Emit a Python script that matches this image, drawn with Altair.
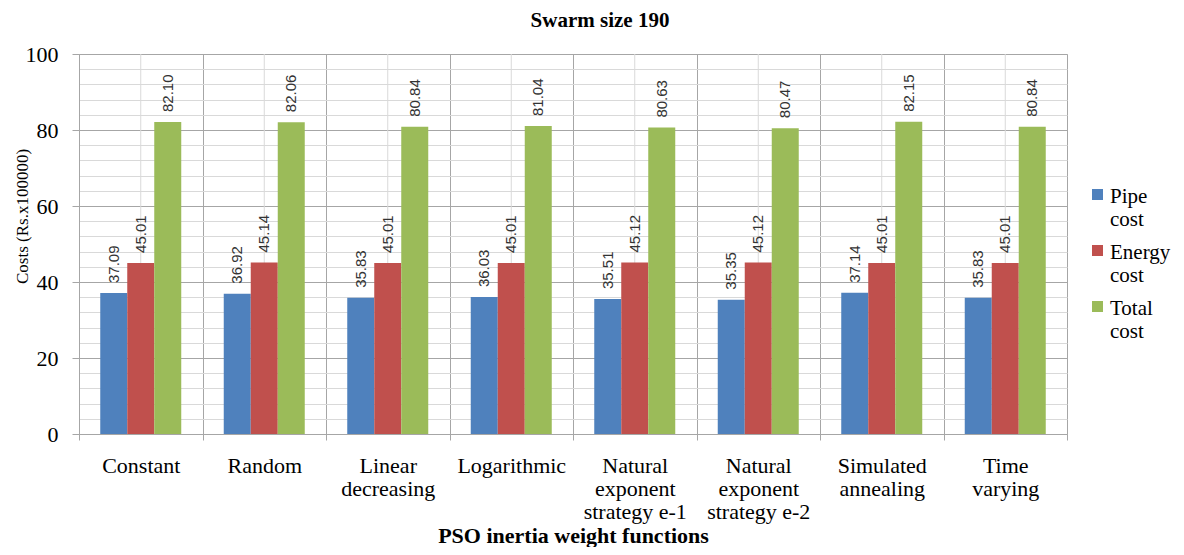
import altair as alt
import pandas as pd

category_lines = [
    ["Constant"],
    ["Random"],
    ["Linear", "decreasing"],
    ["Logarithmic"],
    ["Natural", "exponent", "strategy e-1"],
    ["Natural", "exponent", "strategy e-2"],
    ["Simulated", "annealing"],
    ["Time", "varying"],
]
categories = ["\n".join(l) for l in category_lines]

series_names = ["Pipe cost", "Energy cost", "Total cost"]
series_colors = ["#4F81BD", "#C0504D", "#9BBB59"]

pipe_cost = [37.09, 36.92, 35.83, 36.03, 35.51, 35.35, 37.14, 35.83]
energy_cost = [45.01, 45.14, 45.01, 45.01, 45.12, 45.12, 45.01, 45.01]
total_cost = [82.10, 82.06, 80.84, 81.04, 80.63, 80.47, 82.15, 80.84]

y_ticks = list(range(0, 101, 4))

rows = []
for i, c in enumerate(categories):
    for s, vals in zip(series_names, [pipe_cost, energy_cost, total_cost]):
        rows.append({"category": c, "series": s, "value": vals[i]})
df = pd.DataFrame(rows)
cat_df = pd.DataFrame({"category": categories})

MAJOR = "#a6a6a6"
MINOR = "#d9d9d9"

x_axis = alt.Axis(
    title="PSO inertia weight functions",
    titleFont="Liberation Serif",
    titleFontSize=22,
    titleFontWeight="bold",
    titleColor="black",
    titleBaseline="alphabetic",
    titleY=108,
    labelExpr="split(datum.label, '\\n')",
    labelAngle=0,
    labelFont="Liberation Serif",
    labelFontSize=22,
    labelLineHeight=23,
    labelColor="black",
    labelPadding=15,
    labelLimit=200,
    tickBand="extent",
    grid=True,
    gridColor=MAJOR,
    ticks=True,
    tickSize=6,
    tickColor=MAJOR,
    domainColor=MAJOR,
)
x_scale = alt.Scale(paddingInner=0, paddingOuter=0)
x_enc = alt.X("category:N", sort=categories, axis=x_axis, scale=x_scale)

y_axis = alt.Axis(
    title="Costs (Rs.x100000)",
    titleFont="Liberation Serif",
    titleFontSize=17,
    titleFontWeight="normal",
    titleColor="black",
    titleAngle=270,
    titleBaseline="middle",
    titleAlign="center",
    titleX=-57,
    titleY=162,
    values=y_ticks,
    labelExpr="datum.value % 20 === 0 ? datum.label : ''",
    labelFont="Liberation Serif",
    labelFontSize=22,
    labelColor="black",
    labelPadding=14,
    tickSize=7,
    tickColor={"condition": {"test": "datum.value % 20 === 0", "value": MAJOR}, "value": "transparent"},
    gridColor={"condition": {"test": "datum.value % 20 === 0", "value": MAJOR}, "value": MINOR},
    domainColor=MAJOR,
)
y_enc = alt.Y("value:Q", scale=alt.Scale(domain=[0, 100], nice=False), axis=y_axis)
xoff_enc = alt.XOffset("series:N", sort=series_names,
                       scale=alt.Scale(paddingInner=0, paddingOuter=0.787))

center_rules = alt.Chart(cat_df).mark_rule(color=MINOR, strokeWidth=1).encode(x=x_enc)

# square legend swatch, drawn slightly lower so it lines up with the first label line
swatch = "M-1,0.64H1V2.64H-1Z"

bars = alt.Chart(df).mark_bar().encode(
    x=x_enc,
    xOffset=xoff_enc,
    y=y_enc,
    color=alt.Color(
        "series:N",
        sort=series_names,
        scale=alt.Scale(domain=series_names, range=series_colors),
        legend=alt.Legend(
            title=None,
            orient="none",
            legendX=1008,
            legendY=121,
            symbolType=swatch,
            symbolSize=121,
            symbolStrokeWidth=0,
            labelFont="Liberation Serif",
            labelFontSize=21,
            labelBaseline="top",
            labelExpr="split(datum.label, ' ')",
            labelOffset=2,
            labelColor="black",
            labelLimit=200,
            rowPadding=1,
            padding=0,
        ),
    ),
)

labels = alt.Chart(df).mark_text(
    angle=270, align="left", baseline="middle", dx=10,
    font="Liberation Sans", fontSize=15, color="#333333",
).encode(
    x=x_enc,
    xOffset=xoff_enc,
    y=y_enc,
    text=alt.Text("value:Q", format=".2f"),
)

chart = alt.layer(center_rules, bars, labels).properties(
    width=988,
    height=380,
    padding={"left": 71, "top": 46, "right": 109, "bottom": 113},
    autosize=alt.AutoSizeParams(type="none"),
    title=alt.TitleParams(
        "Swarm size 190",
        font="Liberation Serif",
        fontSize=21,
        fontWeight="bold",
        color="black",
        anchor="middle",
        baseline="alphabetic",
        offset=18,
        dx=27,
        dy=23,
    ),
).configure_view(stroke=MAJOR, strokeWidth=1).configure(background="white")

chart.save("out.html", embed_options={"renderer": "svg", "actions": False})
